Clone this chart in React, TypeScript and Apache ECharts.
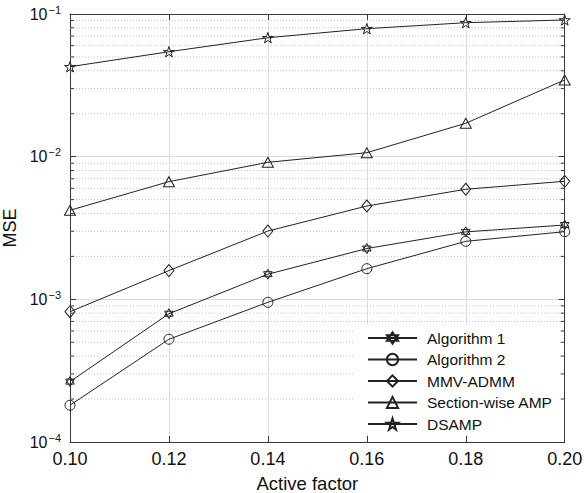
import React, { useEffect, useRef } from "react";
import * as echarts from "echarts";

// ---- data ----
const activeFactor = [0.1, 0.12, 0.14, 0.16, 0.18, 0.2];
const algorithm1 = [2.65e-4, 7.93e-4, 1.5e-3, 2.27e-3, 2.97e-3, 3.32e-3];
const algorithm2 = [1.81e-4, 5.25e-4, 9.53e-4, 1.64e-3, 2.55e-3, 2.98e-3];
const mmvAdmm = [8.19e-4, 1.59e-3, 3.01e-3, 4.51e-3, 5.91e-3, 6.72e-3];
const sectionWiseAmp = [4.21e-3, 6.68e-3, 9.13e-3, 1.066e-2, 1.714e-2, 3.45e-2];
const dsamp = [4.27e-2, 5.44e-2, 6.82e-2, 7.89e-2, 8.69e-2, 9.08e-2];

const seriesNames = ["Algorithm 1", "Algorithm 2", "MMV-ADMM", "Section-wise AMP", "DSAMP"];

// minor log ticks (axis positions)
const minorDecades = [1e-4, 1e-3, 1e-2];
const minorMultipliers = [2, 3, 4, 5, 6, 7, 8, 9];
const minorTicks = minorDecades.flatMap((d) => minorMultipliers.map((m) => m * d));

const xMin = 0.1;
const xMax = 0.2;
const xInterval = 0.02;
const yMin = 1e-4;
const yMax = 1e-1;

const INK = "#222";
const AXIS = "#3a3a3a";
const FONT = "Liberation Sans";

const HEXAGRAM = "path://M50,0L93.3,75L6.7,75Z M50,100L6.7,25L93.3,25Z";
const PENTAGRAM =
  "path://M50,0L61.2,34.5L97.6,34.5L68.2,55.9L79.4,90.5L50,69.1L20.6,90.5L31.8,55.9L2.4,34.5L38.8,34.5Z";

function lineSeries(name: string, values: number[], symbol: string, symbolSize: any) {
  return {
    name,
    type: "line",
    xAxisIndex: 0,
    yAxisIndex: 0,
    z: 5,
    data: activeFactor.map((x, i) => [x, values[i]]),
    symbol,
    symbolSize,
    symbolKeepAspect: true,
    showAllSymbol: true,
    lineStyle: { color: INK, width: 1 },
    itemStyle: { color: "transparent", borderColor: INK, borderWidth: 1 },
    emphasis: { disabled: true },
  };
}

export default function App() {
  const ref = useRef<HTMLDivElement>(null);
  useEffect(() => {
    if (!ref.current) return;
    const chart = echarts.init(ref.current, null, { renderer: "svg" });
    const grid = { left: 70, right: 19.3, top: 14, bottom: 51, containLabel: false, outerBoundsMode: "none" };
    const option: any = {
      animation: false,
      backgroundColor: "#fff",
      grid,
      legend: {
        data: seriesNames,
        orient: "vertical",
        left: 353,
        top: 325,
        padding: [5, 12, 2, 14],
        itemWidth: 49,
        itemHeight: 14,
        itemGap: 5.5,
        backgroundColor: "#fff",
        z: 3,
        selectedMode: false,
        textStyle: { fontFamily: FONT, fontSize: 15.5, color: "#111", padding: [0, 0, 0, 5] },
      },
      xAxis: [
        {
          type: "value",
          position: "bottom",
          min: xMin,
          max: xMax,
          interval: xInterval,
          axisLine: { show: false },
          axisTick: { show: false },
          axisLabel: {
            margin: 8,
            fontFamily: FONT,
            fontSize: 18,
            color: "#111",
            formatter: (v: number) => v.toFixed(2),
          },
          splitLine: { show: true, lineStyle: { color: "#dcdcdc", width: 1 } },
          name: "Active factor",
          nameLocation: "middle",
          nameGap: 32,
          nameTextStyle: { fontFamily: FONT, fontSize: 18.5, color: "#111", padding: [0, 20, 0, 0] },
        },
        {
          type: "value",
          position: "top",
          min: xMin,
          max: xMax,
          interval: xInterval,
          z: 10,
          axisLine: { show: true, lineStyle: { color: AXIS, width: 1 } },
          axisTick: { show: true, inside: true, length: 6, lineStyle: { color: AXIS } },
          axisLabel: { show: false },
          splitLine: { show: false },
        },
        {
          type: "value",
          position: "bottom",
          min: xMin,
          max: xMax,
          interval: xInterval,
          z: 10,
          axisLine: { show: true, lineStyle: { color: AXIS, width: 1 } },
          axisTick: { show: true, inside: true, length: 6, lineStyle: { color: AXIS } },
          axisLabel: { show: false },
          splitLine: { show: false },
        },
      ],
      yAxis: [
        {
          type: "log",
          logBase: 10,
          position: "left",
          min: yMin,
          max: yMax,
          axisLine: { show: true, lineStyle: { color: AXIS, width: 1 } },
          axisTick: { show: true, inside: true, length: 6, lineStyle: { color: AXIS } },
          axisLabel: {
            margin: 9,
            color: "#111",
            fontFamily: FONT,
            formatter: (v: number) => {
              const e = Math.round(Math.log10(v));
              return "{b|10}{e|\u2212" + Math.abs(e) + "}";
            },
            rich: {
              b: { fontFamily: FONT, fontSize: 16, color: "#111" },
              e: { fontFamily: FONT, fontSize: 11, color: "#111", padding: [0, 0, 9, 1] },
            },
          },
          splitLine: { show: true, lineStyle: { color: "#dcdcdc", width: 1 } },
          name: "MSE",
          nameLocation: "middle",
          nameGap: 45,
          nameRotate: 90,
          nameTextStyle: { fontFamily: FONT, fontSize: 18, color: "#111" },
        },
        {
          type: "log",
          logBase: 10,
          position: "right",
          min: yMin,
          max: yMax,
          z: 10,
          axisLine: { show: true, lineStyle: { color: AXIS, width: 1 } },
          axisTick: { show: true, inside: true, length: 6, lineStyle: { color: AXIS } },
          axisLabel: { show: false },
          splitLine: { show: false },
        },
      ],
      series: [
        {
          name: "minorGrid",
          type: "custom",
          xAxisIndex: 0,
          yAxisIndex: 0,
          z: 1,
          silent: true,
          data: minorTicks.map((v) => [xMin, v]),
          renderItem: (params: any, api: any) => {
            const cs = params.coordSys;
            const p = api.coord([xMin, api.value(1)]);
            return {
              type: "line",
              shape: { x1: cs.x, y1: p[1], x2: cs.x + cs.width, y2: p[1] },
              style: { stroke: "#c4c4c4", lineWidth: 1, lineDash: [1, 2] },
            };
          },
        },
        {
          name: "minorTicks",
          type: "custom",
          xAxisIndex: 0,
          yAxisIndex: 0,
          z: 10,
          silent: true,
          data: minorTicks.map((v) => [xMin, v]),
          renderItem: (params: any, api: any) => {
            const cs = params.coordSys;
            const p = api.coord([xMin, api.value(1)]);
            return {
              type: "group",
              children: [
                {
                  type: "line",
                  shape: { x1: cs.x, y1: p[1], x2: cs.x + 4, y2: p[1] },
                  style: { stroke: AXIS, lineWidth: 1 },
                },
                {
                  type: "line",
                  shape: { x1: cs.x + cs.width - 4, y1: p[1], x2: cs.x + cs.width, y2: p[1] },
                  style: { stroke: AXIS, lineWidth: 1 },
                },
              ],
            };
          },
        },
        lineSeries("Algorithm 1", algorithm1, HEXAGRAM, 10),
        lineSeries("Algorithm 2", algorithm2, "circle", 10),
        lineSeries("MMV-ADMM", mmvAdmm, "diamond", [10, 12]),
        lineSeries("Section-wise AMP", sectionWiseAmp, "triangle", [11, 10]),
        lineSeries("DSAMP", dsamp, PENTAGRAM, 11),
      ],
    };
    chart.setOption(option);
    return () => chart.dispose();
  }, []);
  return (
    <div
      ref={ref}
      style={{ position: "fixed", left: 0, top: 0, width: 584, height: 493, background: "#fff" }}
    />
  );
}
